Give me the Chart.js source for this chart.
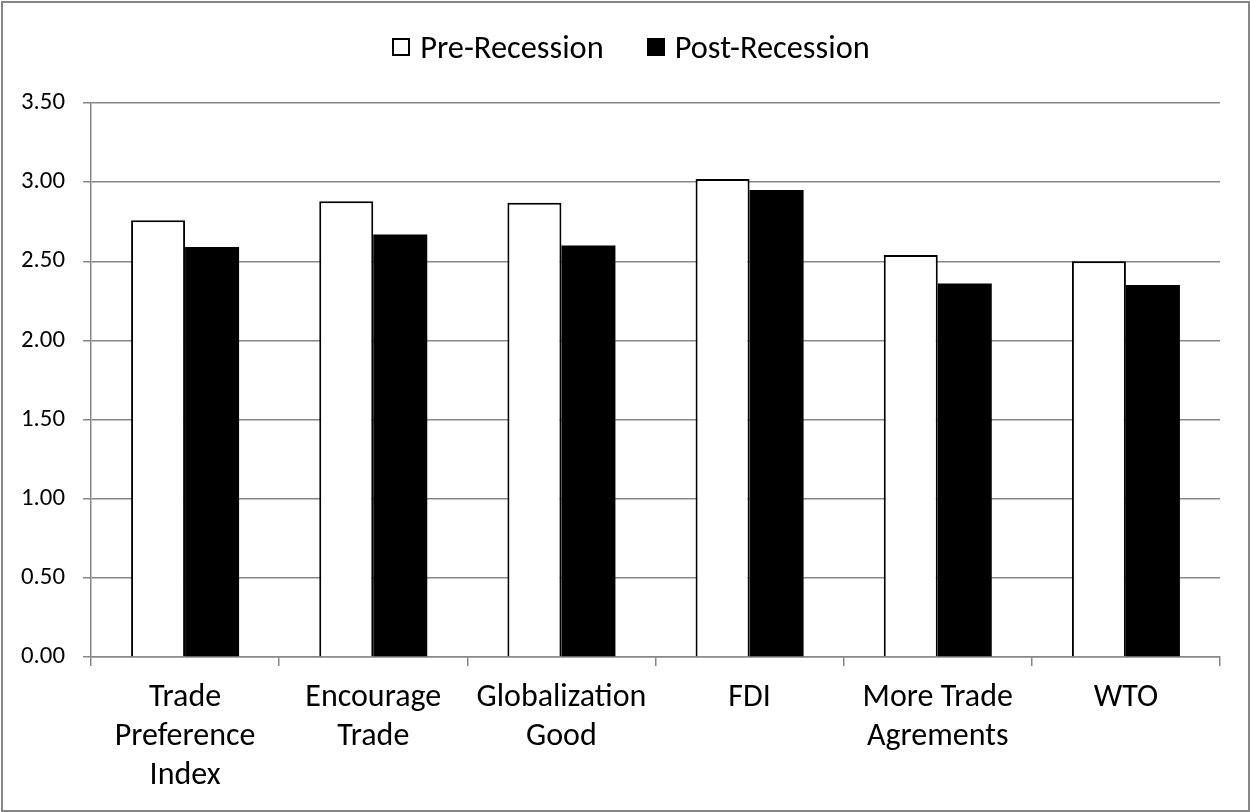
<!DOCTYPE html>
<html>
<head>
<meta charset="utf-8">
<title>Trade attitudes before and after the recession</title>
<script src="https://cdn.jsdelivr.net/npm/chart.js@4.4.1/dist/chart.umd.min.js"></script>
<style>
  html, body { margin: 0; padding: 0; background: #fff; }
  #wrap { position: relative; width: 1250px; height: 812px; }
  #chart { position: absolute; left: 0; top: 0; }
  #legend {
    position: absolute; left: 6px; width: 1250px;
    display: flex; justify-content: center; align-items: center;
    color: #000; white-space: nowrap;
  }
  .item { display: flex; align-items: center; }
  .item + .item { margin-left: 43px; }
  .swatch { width: 18px; height: 18px; box-sizing: border-box; border: 2px solid #000; margin-right: 10px; }
</style>
</head>
<body>
<div id="wrap">
  <canvas id="chart" width="1250" height="812"></canvas>
  <div id="legend"></div>
</div>
<script>
// Survey categories (multi-line axis labels)
const categories = [
  ['Trade', 'Preference', 'Index'],
  ['Encourage', 'Trade'],
  ['Globalization', 'Good'],
  'FDI',
  ['More Trade', 'Agrements'],
  'WTO'
];

// Mean scores per category
const preRecession  = [2.76, 2.88, 2.87, 3.02, 2.54, 2.50];
const postRecession = [2.59, 2.67, 2.60, 2.95, 2.36, 2.35];

// Value axis range
const yMin = 0;
const yMax = 3.5;
const yStep = 0.5;

const FONT = '"Carlito", "Open Sans", sans-serif';
const GREY = '#878787';

// Pick a font size so a sample string takes the wanted width
function fitSize(text, width) {
  const ctx = document.createElement('canvas').getContext('2d');
  ctx.font = '100px ' + FONT;
  return Math.round(1000 * width / ctx.measureText(text).width) / 10;
}
const xFontSize = fitSize('Globalization', 170);
const yFontSize = fitSize('3.50', 44);
const legendFontSize = fitSize('Post-Recession', 195);

const frame = {
  id: 'frame',
  beforeDraw(chart) {
    const c = chart.ctx;
    c.save();
    c.fillStyle = '#fff';
    c.fillRect(0, 0, chart.width, chart.height);
    c.restore();
  },
  afterDraw(chart) {
    const c = chart.ctx;
    c.save();
    c.strokeStyle = GREY;
    c.lineWidth = 2;
    c.strokeRect(2, 2, 1247, 809);
    c.restore();
  }
};

const chart = new Chart(document.getElementById('chart'), {
  type: 'bar',
  data: {
    labels: categories,
    datasets: [
      {
        label: 'Pre-Recession',
        data: preRecession,
        backgroundColor: '#ffffff',
        borderColor: '#000000',
        borderWidth: 2,
        categoryPercentage: 0.574,
        barPercentage: 1
      },
      {
        label: 'Post-Recession',
        data: postRecession,
        backgroundColor: '#000000',
        borderColor: '#000000',
        borderWidth: 0,
        categoryPercentage: 0.574,
        barPercentage: 1
      }
    ]
  },
  options: {
    responsive: false,
    animation: false,
    layout: { padding: { top: 103, right: 30, bottom: 0, left: 0 } },
    plugins: {
      legend: { display: false },
      tooltip: { enabled: false }
    },
    scales: {
      x: {
        grid: {
          display: true,
          drawOnChartArea: false,
          drawTicks: true,
          tickLength: 9,
          offset: true,
          color: GREY,
          lineWidth: 1.5
        },
        border: { display: true, color: GREY, width: 1.5 },
        ticks: {
          color: '#000',
          autoSkip: false,
          maxRotation: 0,
          minRotation: 0,
          padding: 12,
          font: { family: FONT, size: xFontSize, lineHeight: '39px' }
        },
        afterFit(scale) { scale.height = 155; }
      },
      y: {
        min: yMin,
        max: yMax,
        grid: {
          color: GREY,
          lineWidth: 1.5,
          drawTicks: true,
          tickLength: 8
        },
        border: { display: true, color: GREY, width: 1.5 },
        ticks: {
          stepSize: yStep,
          color: '#000',
          padding: 18,
          font: { family: FONT, size: yFontSize },
          callback: v => Number(v).toFixed(2)
        },
        afterFit(scale) { scale.width = 91; }
      }
    }
  },
  plugins: [frame]
});

// Legend built from the chart's datasets
const legend = document.getElementById('legend');
legend.style.fontFamily = FONT;
legend.style.fontSize = legendFontSize + 'px';
legend.style.lineHeight = legendFontSize + 'px';
legend.style.top = (47 - legendFontSize / 2) + 'px';
chart.data.datasets.forEach(ds => {
  const item = document.createElement('div');
  item.className = 'item';
  const sw = document.createElement('span');
  sw.className = 'swatch';
  sw.style.background = ds.backgroundColor;
  const txt = document.createElement('span');
  txt.textContent = ds.label;
  item.appendChild(sw);
  item.appendChild(txt);
  legend.appendChild(item);
});
</script>
</body>
</html>
